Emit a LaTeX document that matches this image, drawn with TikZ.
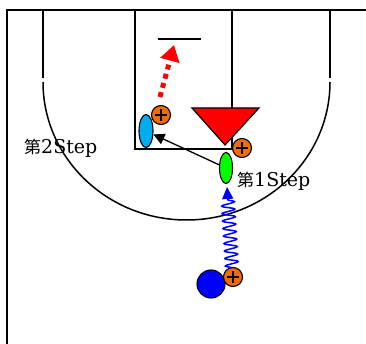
\documentclass[tikz,border=0pt]{standalone}
\usepackage{fontspec}
\setmainfont{DejaVu Serif}
\newfontfamily\cjk{Noto Sans CJK JP}
\usetikzlibrary{arrows.meta,decorations.pathmorphing,shapes.geometric}
\definecolor{ballorange}{RGB}{240,108,10}
\tikzset{
  court/.style={line width=1.5pt, black},
  ballnode/.style={circle, draw, fill=ballorange, minimum size=19pt, inner sep=0pt, line width=1.1pt,
    path picture={
      \draw[line width=2.2pt] ([xshift=-6pt]path picture bounding box.center) -- ([xshift=6pt]path picture bounding box.center);
      \draw[line width=2.2pt] ([yshift=-6pt]path picture bounding box.center) -- ([yshift=6pt]path picture bounding box.center);}},
  playerell/.style={ellipse, draw, line width=1.1pt, inner sep=0pt},
  steplabel/.style={anchor=west, inner sep=0pt, font=\fontsize{19}{19}\selectfont},
}
\begin{document}
\begin{tikzpicture}[x=1pt,y=-1pt]
\useasboundingbox (0,0) rectangle (366,344);
% border
\draw[line width=2pt] (6.5,344) -- (6.5,10) -- (366,10);
% lane
\draw[court] (135,10) -- (135,149) -- (232,149) -- (232,10);
% hoop line
\draw[line width=2pt] (158,39) -- (201,39);
% three point line
\draw[court] (43,10) -- (43,78);
\draw[court] (330,10) -- (330,78);
\draw[court] (43,82) arc[start angle=180, end angle=0, x radius=143.5, y radius=138];
% defender triangle
\coordinate (tl) at (192,108);
\coordinate (tr) at (259,108);
\coordinate (tb) at (225,145);
\draw[fill=red, line width=1.2pt, line join=miter] (tl) -- (tr) -- (tb) -- cycle;
% players
\node[playerell, fill=cyan, minimum width=14pt, minimum height=33pt] (c) at (146,131) {};
\node[playerell, fill=green, minimum width=13pt, minimum height=31pt] (g) at (226,168) {};
\node[circle, draw, fill=blue, line width=1.1pt, minimum size=28pt, inner sep=0pt] (b) at (211,284) {};
% balls
\node[ballnode] (o1) at (161,115) {};
\node[ballnode] (o2) at (242,148) {};
\node[ballnode] (o3) at (233,277) {};
% black arrow
\draw[line width=1.3pt, -{Triangle[length=11pt,width=11pt]}] (g) -- (c);
% red dotted arrow
\coordinate (rs) at (160,97);
\coordinate (re) at (174,45);
\draw[red, line width=5pt, dash pattern=on 5pt off 4.5pt, -{Triangle[length=16pt,width=19pt]}] (rs) -- (re);
% blue snake arrow
\coordinate (ss) at (232,268);
\coordinate (se) at (227,187);
\draw[blue, line width=1.5pt, decorate, decoration={snake, amplitude=6.5pt, segment length=7.5pt, post length=12pt}, -{Triangle[length=12pt,width=11pt]}] (ss) -- (se);
% labels
\node[steplabel] (l2) at (24,148) {{\cjk\fontsize{17}{17}\selectfont 第}2Step};
\node[steplabel] (l1) at (237,181.5) {{\cjk\fontsize{17}{17}\selectfont 第}1Step};
\end{tikzpicture}
\end{document}
